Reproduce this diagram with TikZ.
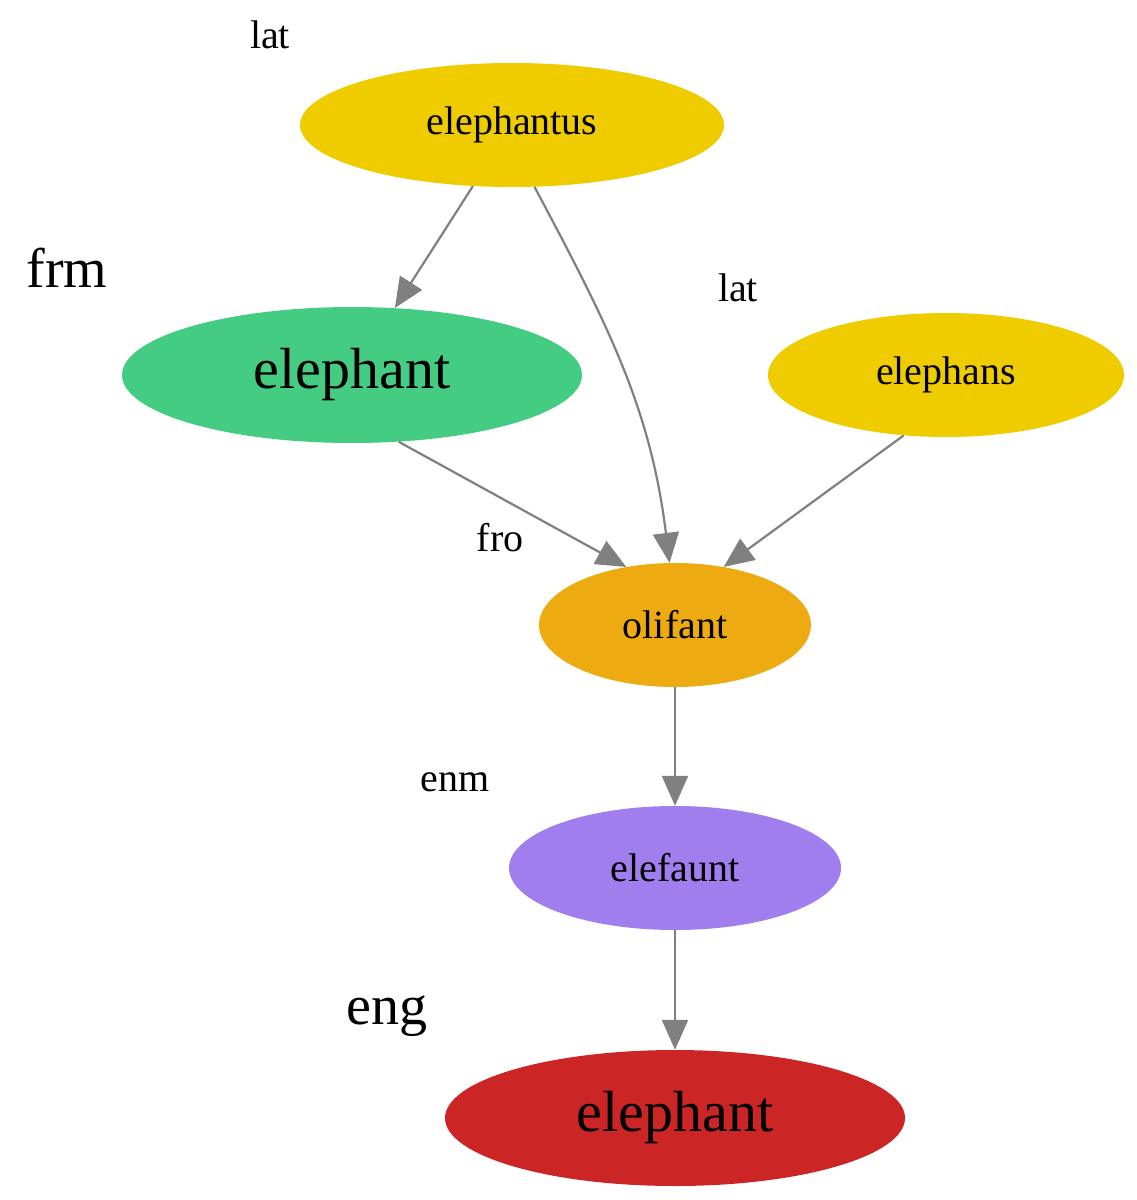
\documentclass[tikz,border=0pt]{standalone}
\usepackage{fontspec}
\setmainfont{Liberation Serif}
\usetikzlibrary{shapes.geometric,arrows.meta}
\definecolor{latyellow}{HTML}{EECC00}
\definecolor{frmgreen}{HTML}{44CC82}
\definecolor{froorange}{HTML}{EEAA11}
\definecolor{enmpurple}{HTML}{A07EEE}
\definecolor{engred}{HTML}{CC2525}
\tikzstyle{word}=[ellipse,inner sep=0pt,minimum height=124pt,
                  font=\fontsize{40}{48}\selectfont]
\tikzstyle{bigword}=[word,minimum height=136pt,
                  font=\fontsize{58}{68}\selectfont]
\tikzstyle{lang}=[font=\fontsize{40}{48}\selectfont]
\tikzstyle{biglang}=[font=\fontsize{56}{66}\selectfont]
\tikzstyle{etym}=[draw=gray,line width=2.2pt,-{Triangle[length=30pt,width=26pt]}]
\begin{document}
\begin{tikzpicture}[x=1pt,y=-1pt]
  \useasboundingbox (0,0) rectangle (1137,1200);
  % Words
  \node[word,fill=latyellow,minimum width=424pt] (elephantus) at (512,125) {elephantus};
  \node[bigword,fill=frmgreen,minimum width=460pt] (frmelephant) at (352,375) {elephant};
  \node[word,fill=latyellow,minimum width=356pt] (elephans) at (946,375) {elephans};
  \node[word,fill=froorange,minimum width=272pt] (olifant) at (675,625) {olifant};
  \node[word,fill=enmpurple,minimum width=332pt] (elefaunt) at (675,868) {elefaunt};
  \node[bigword,fill=engred,minimum width=460pt] (engelephant) at (675,1118) {elephant};

  % Languages
  \node[lang] (lat1) at (270,35) {lat};
  \node[biglang] (frm) at (67,268) {frm};
  \node[lang] (lat2) at (738,288) {lat};
  \node[lang] (fro) at (500,538) {fro};
  \node[lang] (enm) at (455,782) {enm};
  \node[biglang] (eng) at (387,1016) {eng};

  % Edges
  \draw[etym] (elephantus) -- (frmelephant);
  \draw[etym] (elephantus.-70) to[out=-62,in=97] (olifant.95);
  \draw[etym] (frmelephant.-55) -- (olifant.130);
  \draw[etym] (elephans.-125) -- (olifant.50);
  \draw[etym] (olifant) -- (elefaunt);
  \draw[etym] (elefaunt) -- (engelephant);
\end{tikzpicture}
\end{document}
